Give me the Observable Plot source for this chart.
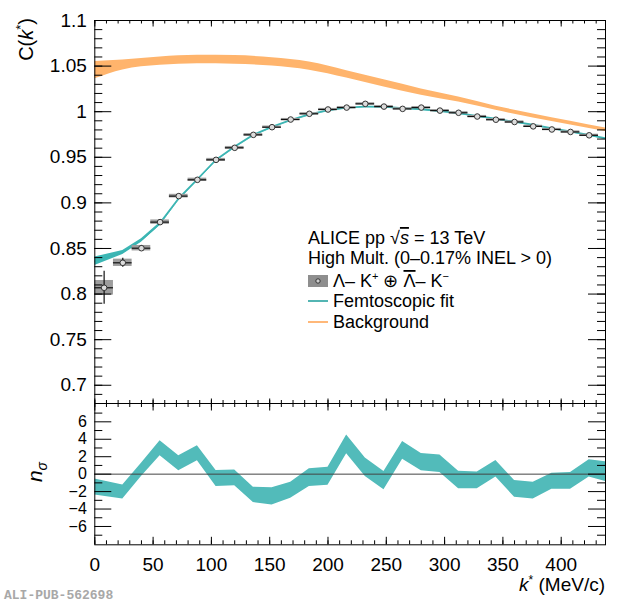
<!DOCTYPE html>
<html>
<head>
<meta charset="utf-8">
<script src="https://cdn.jsdelivr.net/npm/d3@7"></script>
<script src="https://cdn.jsdelivr.net/npm/@observablehq/plot@0.6"></script>
<style>
  body { margin: 0; background: white; }
  #chart { width: 620px; }
  #chart svg { display: block; }
</style>
</head>
<body>
<div id="chart"></div>
<script>
// ---------- data ----------
const kCenters = [8, 24, 40, 56, 72, 88, 104, 120, 136, 152, 168, 184, 200, 216, 232, 248, 264, 280, 296, 312, 328, 344, 360, 376, 392, 408, 424];
const cfValues = [0.8069, 0.8343, 0.8503, 0.8789, 0.9074, 0.9253, 0.9472, 0.9604, 0.9746, 0.9830, 0.9914, 0.9977, 1.0024, 1.0045, 1.0086, 1.0056, 1.0031, 1.0045, 1.0012, 0.9988, 0.9947, 0.9912, 0.9887, 0.9839, 0.9805, 0.9778, 0.9741];
const cfStat = [0.018, 0.005, 0.003, 0.0022, 0.002, 0.002, 0.0018, 0.0016, 0.0015, 0.0014, 0.0013, 0.0013, 0.0012, 0.0012, 0.0012, 0.0012, 0.0012, 0.0012, 0.0012, 0.0012, 0.0012, 0.0012, 0.0012, 0.0012, 0.0012, 0.0012, 0.0012];
const cfSyst = [0.008, 0.004, 0.003, 0.0024, 0.002, 0.0018, 0.0016, 0.0015, 0.0014, 0.0013, 0.0012, 0.0012, 0.0012, 0.0012, 0.0012, 0.0012, 0.0012, 0.0012, 0.0012, 0.0012, 0.0012, 0.0012, 0.0012, 0.0012, 0.0012, 0.0012, 0.0012];
const binHalfWidth = 8;

const fitK = [0, 24, 40, 56, 72, 88, 104, 120, 136, 152, 168, 184, 200, 216, 232, 248, 264, 280, 296, 312, 328, 344, 360, 376, 392, 408, 424, 440];
const fitMid = [0.836, 0.8456, 0.8588, 0.8768, 0.9040, 0.9250, 0.9465, 0.9610, 0.9740, 0.9828, 0.9903, 0.9965, 1.0010, 1.0040, 1.0052, 1.0050, 1.0035, 1.0022, 1.0003, 0.9980, 0.9948, 0.9918, 0.9886, 0.9852, 0.9815, 0.9778, 0.9740, 0.9700];
const fitHalf = [0.0046, 0.0022, 0.0019, 0.0017, 0.0014, 0.0012, 0.0011, 0.001, 0.0009, 0.0009, 0.0009, 0.0009, 0.0009, 0.0009, 0.0009, 0.0009, 0.0009, 0.0009, 0.0009, 0.0009, 0.0009, 0.0009, 0.0009, 0.0009, 0.0009, 0.0009, 0.0009, 0.0009];

const bgK = [0, 24, 56, 88, 120, 152, 184, 216, 248, 280, 312, 344, 376, 408, 440];
const bgHigh = [1.055, 1.0568, 1.060, 1.0618, 1.0615, 1.0592, 1.0545, 1.0450, 1.035, 1.025, 1.016, 1.006, 0.9975, 0.9895, 0.9815];
const bgLow = [1.036, 1.0458, 1.0508, 1.0525, 1.052, 1.0500, 1.0455, 1.0370, 1.027, 1.018, 1.0105, 1.0015, 0.9930, 0.9855, 0.9778];

const nsK = [0, 24, 40, 56, 72, 88, 104, 120, 136, 152, 168, 184, 200, 216, 232, 248, 264, 280, 296, 312, 328, 344, 360, 376, 392, 408, 424, 440];
const nsHigh = [-0.57, -1.23, 1.26, 3.83, 2.1, 3.25, 0.42, 0.49, -1.5, -1.57, -0.92, 0.61, 0.8, 4.48, 1.84, 0.3, 3.75, 2.38, 2.2, 0.34, 0.26, 1.56, -0.74, -0.92, 0.11, 0.18, 1.64, 1.38];
const nsLow = [-2.38, -2.84, -0.27, 2.1, 0.38, 1.53, -1.42, -1.34, -3.26, -3.53, -2.76, -1.42, -1.27, 2.33, -0.27, -1.8, 1.72, 0.38, 0.2, -1.66, -1.66, -0.34, -2.64, -2.84, -1.72, -1.72, -0.34, -0.9];

const xTicks = [0, 50, 100, 150, 200, 250, 300, 350, 400];
const yTicksTop = [0.7, 0.75, 0.8, 0.85, 0.9, 0.95, 1, 1.05, 1.1];
const yTicksBottom = [-6, -4, -2, 0, 2, 4, 6];

// ---------- tables ----------
const points = kCenters.map((k, i) => ({k, y: cfValues[i], stat: cfStat[i], syst: cfSyst[i]}));
const fit = fitK.map((k, i) => ({k, mid: fitMid[i], lo: fitMid[i] - fitHalf[i], hi: fitMid[i] + fitHalf[i]}));
const bg = bgK.map((k, i) => ({k, lo: bgLow[i], hi: bgHigh[i]}));
const ns = nsK.map((k, i) => ({k, lo: nsLow[i], hi: nsHigh[i]}));

// ---------- layout ----------
const W = 620, ML = 94.3, MR = 15;
const plotW = W - ML - MR;
const xDomain = [0, 438];
const FONT = "'Liberation Sans', Arial, Helvetica, sans-serif";
const xMinor = d3.range(0, 440, 10);

function frameTicks(H, yMajor, yMinor, lenY, lenYm, topMaj, topMin, botMaj, botMin) {
  const s = {stroke: "black", strokeWidth: 1};
  return [
    Plot.tickY(yMinor, {...s, insetRight: plotW - lenYm}),
    Plot.tickY(yMajor, {...s, insetRight: plotW - lenY}),
    Plot.tickY(yMinor, {...s, insetLeft: plotW - lenYm}),
    Plot.tickY(yMajor, {...s, insetLeft: plotW - lenY}),
    Plot.tickX(xMinor, {...s, insetBottom: H - topMin}),
    Plot.tickX(xTicks, {...s, insetBottom: H - topMaj}),
    Plot.tickX(xMinor, {...s, insetTop: H - botMin}),
    Plot.tickX(xTicks, {...s, insetTop: H - botMaj})
  ];
}

// ---------- top panel ----------
const topH = 403, topMT = 20;
const topInner = topH - topMT;
const topPlot = Plot.plot({
  width: W, height: topH,
  marginLeft: ML, marginRight: MR, marginTop: topMT, marginBottom: 0,
  style: {fontFamily: FONT, background: "white"},
  x: {domain: xDomain, axis: null, label: null},
  y: {domain: [0.68, 1.1], axis: null, label: null},
  marks: [
    Plot.areaY(bg, {x: "k", y1: "lo", y2: "hi", fill: "#ffb46c", curve: "monotone-x", clip: true}),
    Plot.areaY(fit, {x: "k", y1: "lo", y2: "hi", fill: "#3cb6b4", clip: true}),
    Plot.line(fit, {x: "k", y: "mid", stroke: "#38b3b1", strokeWidth: 0.8, clip: true}),
    Plot.rect(points, {x1: d => d.k - binHalfWidth, x2: d => d.k + binHalfWidth, y1: d => d.y - d.syst, y2: d => d.y + d.syst, fill: "#9d9d9d"}),
    Plot.ruleY(points, {x1: d => d.k - binHalfWidth, x2: d => d.k + binHalfWidth, y: "y", stroke: "#111", strokeWidth: 1.2}),
    Plot.ruleX(points, {x: "k", y1: d => d.y - d.stat, y2: d => d.y + d.stat, stroke: "#111", strokeWidth: 1.2}),
    Plot.dot(points, {x: "k", y: "y", r: 2.8, stroke: "#333", strokeWidth: 1, fill: "#dcdcdc"}),
    Plot.frame({stroke: "black", strokeWidth: 1}),
    ...frameTicks(topInner, yTicksTop, d3.range(68, 111).map(i => i / 100), 17, 8, 6.5, 3.5, 4.5, 3),
    Plot.axisY(yTicksTop, {tickSize: 0, tickPadding: 8, fontSize: 19, label: null, tickFormat: d => String(+d.toFixed(2))})
  ]
});

// ---------- bottom panel ----------
const botH = 200, botInner = 141.3;
const botPlot = Plot.plot({
  width: W, height: botH,
  marginLeft: ML, marginRight: MR, marginTop: 0, marginBottom: botH - botInner,
  style: {fontFamily: FONT, background: "white"},
  x: {domain: xDomain, axis: null, label: null},
  y: {domain: [-8.1, 8.1], axis: null, label: null},
  marks: [
    Plot.areaY(ns, {x: "k", y1: "lo", y2: "hi", fill: "#52bbba", clip: true}),
    Plot.ruleY([0], {stroke: "#444", strokeWidth: 1}),
    Plot.frame({stroke: "black", strokeWidth: 1}),
    ...frameTicks(botInner, yTicksBottom, d3.range(-7, 8, 2), 17, 8, 7.5, 4, 7.5, 4),
    Plot.axisY(yTicksBottom, {tickSize: 0, tickPadding: 8, fontSize: 16, label: null, tickFormat: d => d < 0 ? "\u2212" + (-d) : String(d)}),
    Plot.axisX(xTicks, {anchor: "bottom", tickSize: 0, tickPadding: 12.5, fontSize: 19, label: null})
  ]
});

const chart = document.getElementById("chart");
chart.append(topPlot, botPlot);

// ---------- titles & legend ----------
const ts = d3.select(topPlot).append("g").attr("font-family", FONT).attr("fill", "black").attr("text-anchor", "start");

// y title C(k*)
const yt = ts.append("text").attr("transform", "translate(33,18) rotate(-90)").attr("text-anchor", "end").attr("font-size", 20);
yt.append("tspan").text("C(");
yt.append("tspan").attr("font-style", "italic").text("k");
yt.append("tspan").attr("font-size", 13).attr("dy", -8).text("*");
yt.append("tspan").attr("dy", 8).text(")");

// header
const h1 = ts.append("text").attr("x", 308).attr("y", 244).attr("font-size", 18);
h1.append("tspan").text("ALICE pp \u221A");
h1.append("tspan").attr("font-style", "italic").style("text-decoration", "overline").text("s");
h1.append("tspan").text(" = 13 TeV");
ts.append("text").attr("x", 308).attr("y", 264).attr("font-size", 18).text("High Mult. (0\u20130.17% INEL > 0)");

// legend row 1
ts.append("rect").attr("x", 308).attr("y", 275).attr("width", 20).attr("height", 12).attr("fill", "#8e8e8e");
ts.append("circle").attr("cx", 318).attr("cy", 281).attr("r", 2.2).attr("fill", "#cfcfcf").attr("stroke", "#333");
const l1 = ts.append("text").attr("x", 333).attr("y", 287).attr("font-size", 18);
l1.append("tspan").text("\u039B\u2013 K");
l1.append("tspan").attr("font-size", 11).attr("dy", -7).text("+");
l1.append("tspan").attr("dy", 7).text(" \u2295 ");
l1.append("tspan").style("text-decoration", "overline").text("\u039B");
l1.append("tspan").text("\u2013 K");
l1.append("tspan").attr("font-size", 11).attr("dy", -7).text("\u2212");

// legend row 2,3
ts.append("line").attr("x1", 308).attr("x2", 328).attr("y1", 301).attr("y2", 301).attr("stroke", "#1a9c9a").attr("stroke-width", 1.5);
ts.append("text").attr("x", 333).attr("y", 307).attr("font-size", 18).text("Femtoscopic fit");
ts.append("line").attr("x1", 308).attr("x2", 328).attr("y1", 322).attr("y2", 322).attr("stroke", "#ffa04c").attr("stroke-width", 1.5);
ts.append("text").attr("x", 333).attr("y", 328).attr("font-size", 18).text("Background");

// bottom panel texts
const bs = d3.select(botPlot).append("g").attr("font-family", FONT).attr("fill", "black").attr("text-anchor", "start");
const nt = bs.append("text").attr("transform", "translate(42,69) rotate(-90)").attr("text-anchor", "middle").attr("font-size", 21);
nt.append("tspan").attr("font-style", "italic").text("n");
nt.append("tspan").attr("font-size", 14).attr("dy", 5).attr("font-style", "italic").text("\u03C3");

const xt = bs.append("text").attr("x", 605).attr("y", 188).attr("text-anchor", "end").attr("font-size", 19);
xt.append("tspan").attr("font-style", "italic").text("k");
xt.append("tspan").attr("font-size", 12).attr("dy", -7).text("*");
xt.append("tspan").attr("dy", 7).text(" (MeV/c)");

bs.append("text").attr("x", 4).attr("y", 196).attr("font-family", "'Liberation Mono', 'DejaVu Sans Mono', monospace")
  .attr("font-weight", "bold").attr("font-size", 13).attr("fill", "#a8a8a8").text("ALI-PUB-562698");
</script>
</body>
</html>
